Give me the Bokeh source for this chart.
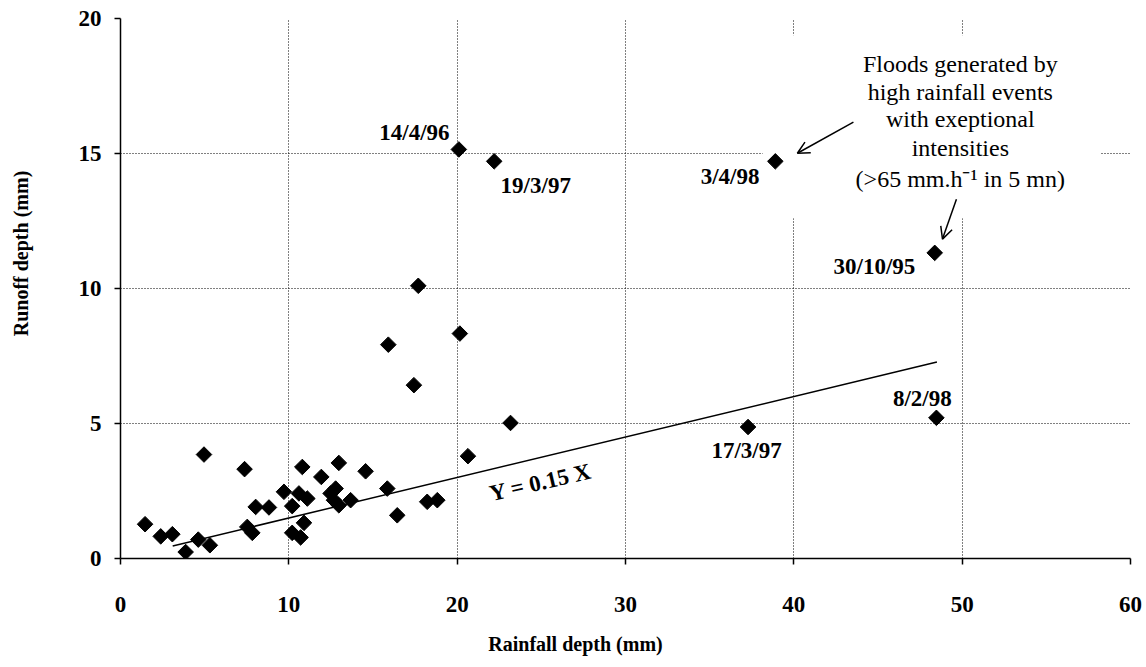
import math
from bokeh.plotting import figure
from bokeh.models import FixedTicker, Label, Arrow, OpenHead
from bokeh.embed import file_html
from bokeh.resources import INLINE

# ---- data ----
rain = [1.46, 2.39, 3.08, 3.87, 4.62, 5.31, 4.96, 7.37, 7.53, 7.83,
        8.03, 8.82, 9.71, 10.2, 10.8, 10.6, 11.1, 10.2, 10.7, 10.9,
        11.93, 12.97, 12.48, 12.78, 12.97, 12.68, 13.67, 14.56, 15.85, 16.44,
        18.22, 18.82, 20.64, 23.17, 17.43, 15.91, 20.16, 17.69, 20.1, 22.2,
        38.9, 48.37, 48.47, 37.28]
runoff = [1.27, 0.82, 0.90, 0.24, 0.70, 0.49, 3.85, 3.31, 1.17, 0.95,
          1.91, 1.89, 2.47, 1.94, 3.39, 2.41, 2.22, 0.95, 0.78, 1.32,
          3.02, 3.54, 2.41, 2.59, 1.97, 2.16, 2.16, 3.23, 2.59, 1.60,
          2.10, 2.16, 3.79, 5.02, 6.42, 7.92, 8.33, 10.10, 15.15, 14.71,
          14.71, 11.32, 5.21, 4.87]

slope = 0.15
fit_x = [3.1, 48.5]
fit_y = [slope * v for v in fit_x]

x_ticks = [0, 10, 20, 30, 40, 50, 60]
y_ticks = [0, 5, 10, 15, 20]

event_labels = ["14/4/96", "19/3/97", "3/4/98", "30/10/95", "8/2/98", "17/3/97"]
event_lx = [19.55, 22.58, 37.96, 47.22, 47.63, 37.19]
event_ly = [15.77, 13.83, 14.14, 10.83, 5.94, 4.01]
event_align = ["right", "left", "right", "right", "center", "center"]

note_lines = ["Floods generated by", "high rainfall events", "with exeptional",
              "intensities", "(>65 mm.h\u207b\u00b9 in 5 mn)"]
note_x = 49.89
note_y = [18.33, 17.28, 16.26, 15.19, 14.07]

x_title = "Rainfall depth (mm)"
y_title = "Runoff depth (mm)"

SERIF = "Liberation Serif"

p = figure(width=1146, height=667, x_range=(0, 60), y_range=(0, 20),
           output_backend="svg", toolbar_location=None,
           min_border_left=120, min_border_right=16, min_border_top=18,
           min_border_bottom=109)
p.outline_line_color = None
p.background_fill_color = "white"
p.border_fill_color = "white"

for ax in (p.xaxis[0], p.yaxis[0]):
    ax.axis_line_color = "black"
    ax.axis_line_width = 1.5
    ax.major_tick_line_color = "black"
    ax.major_tick_line_width = 1.5
    ax.major_tick_out = 6
    ax.major_tick_in = 0
    ax.minor_tick_line_color = None
    ax.major_label_text_font = SERIF
    ax.major_label_text_font_style = "bold"
    ax.major_label_text_font_size = "23px"
    ax.major_label_text_color = "black"
    ax.axis_label_text_font = SERIF
    ax.axis_label_text_font_style = "bold"
    ax.axis_label_text_font_size = "20px"
    ax.axis_label_text_color = "black"

p.xaxis[0].ticker = FixedTicker(ticks=x_ticks)
p.yaxis[0].ticker = FixedTicker(ticks=y_ticks)
p.xaxis[0].major_label_standoff = 32
p.yaxis[0].major_label_standoff = 13

# axis titles (no-break spaces shift them off-centre, as in the original)
p.yaxis[0].axis_label = "\u00a0" * 14 + y_title
p.yaxis[0].axis_label_standoff = 44
p.xaxis[0].axis_label = x_title + "\u00a0" * 20
p.xaxis[0].axis_label_standoff = 18

for g in (p.xgrid[0], p.ygrid[0]):
    g.grid_line_color = "black"
    g.grid_line_dash = "1 2"
    g.grid_line_width = 1
    g.grid_line_alpha = 1.0
p.xgrid[0].ticker = FixedTicker(ticks=x_ticks)
p.ygrid[0].ticker = FixedTicker(ticks=y_ticks)

# white box behind the note (interrupts the grid)
p.quad(left=[38.15], right=[58.2], bottom=[12.6], top=[19.38],
       fill_color="white", line_color=None)

# fitted line
p.line(fit_x, fit_y, line_color="black", line_width=1.5)

# points
p.scatter(rain, runoff, marker="square", size=11, angle=math.pi / 4,
          fill_color="black", line_color="black")

# event labels
for t, x, y, a in zip(event_labels, event_lx, event_ly, event_align):
    p.add_layout(Label(x=x, y=y, text=t, text_align=a, text_baseline="middle",
                       text_font=SERIF, text_font_style="bold",
                       text_font_size="23px", text_color="black"))

# fit label
p.add_layout(Label(x=24.95, y=2.82, text="Y = 0.15 X", text_align="center",
                   text_baseline="middle", angle=math.radians(13),
                   text_font=SERIF, text_font_style="bold",
                   text_font_size="23px", text_color="black"))

# note
for t, y in zip(note_lines, note_y):
    p.add_layout(Label(x=note_x, y=y, text=t, text_align="center",
                       text_baseline="middle", text_font=SERIF,
                       text_font_size="24px", text_color="black"))

# arrows
p.add_layout(Arrow(end=OpenHead(size=12, line_width=1.5, line_color="black"),
                   x_start=43.54, y_start=16.16, x_end=40.21, y_end=15.01,
                   line_width=1.5, line_color="black"))
p.add_layout(Arrow(end=OpenHead(size=12, line_width=1.5, line_color="black"),
                   x_start=49.66, y_start=13.31, x_end=48.83, y_end=11.83,
                   line_width=1.5, line_color="black"))

open("out.html", "w").write(file_html(p, INLINE))
